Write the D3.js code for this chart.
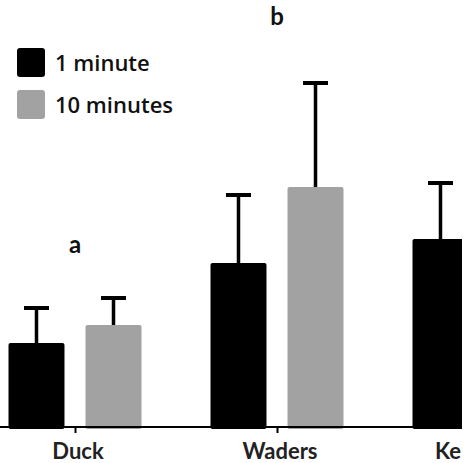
<!DOCTYPE html>
<html>
<head>
<meta charset="utf-8">
<script src="https://cdn.jsdelivr.net/npm/d3@7"></script>
<style>
html,body{margin:0;padding:0;background:#fff;overflow:hidden;}
svg{display:block;}
</style>
</head>
<body>
<svg id="chart" width="465" height="463"></svg>
<script>
const categories = ["Duck", "Waders", "Kelp gulls"];
const series = ["1 minute", "10 minutes"];
const oneMinute = [8.4, 16.4, 18.8];
const tenMinutes = [10.2, 24.0, 22.0];
const oneMinuteErr = [3.5, 6.8, 5.6];
const tenMinutesErr = [2.7, 10.4, 6.0];
const sigLetters = ["a", "b"];
const sigLetterHeight = [17.4, 40.2];
const colors = ["#000000", "#a2a2a2"];

const svg = d3.select("#chart");
const W = 465, H = 463;
const baseY = 427;
const visibleW = 462;

svg.append("defs").append("clipPath").attr("id", "crop")
  .append("rect").attr("x", 0).attr("y", 0).attr("width", visibleW).attr("height", H);
const root = svg.append("g").attr("clip-path", "url(#crop)");

const y = d3.scaleLinear().domain([0, 40]).range([baseY, 27]);
const x0 = d3.scaleBand().domain(categories).range([-26, 580])
  .paddingInner(0.3416).paddingOuter(0.1708);
const x1 = d3.scaleBand().domain(series).range([0, x0.bandwidth()])
  .paddingInner(0.273);

const data = categories.map((c, i) => ({
  cat: c,
  vals: [
    {s: series[0], v: oneMinute[i], e: oneMinuteErr[i]},
    {s: series[1], v: tenMinutes[i], e: tenMinutesErr[i]}
  ]
}));

const g = root.append("g");
const groups = g.selectAll("g.grp").data(data).join("g")
  .attr("transform", d => `translate(${x0(d.cat)},0)`);

groups.selectAll("g.err").data(d => d.vals).join("g").each(function(d) {
  const cx = x1(d.s) + x1.bandwidth() / 2;
  const sel = d3.select(this);
  sel.append("line").attr("x1", cx).attr("x2", cx)
    .attr("y1", y(d.v)).attr("y2", y(d.v + d.e))
    .attr("stroke", "#000").attr("stroke-width", 3.5);
  sel.append("line").attr("x1", cx - 12.5).attr("x2", cx + 12.5)
    .attr("y1", y(d.v + d.e)).attr("y2", y(d.v + d.e))
    .attr("stroke", "#000").attr("stroke-width", 4);
});

groups.selectAll("rect").data(d => d.vals).join("rect")
  .attr("x", d => x1(d.s))
  .attr("y", d => y(d.v))
  .attr("width", x1.bandwidth())
  .attr("height", d => baseY - y(d.v) + 2)
  .attr("rx", 2)
  .attr("fill", (d, i) => colors[i]);

g.selectAll("text.sig").data(sigLetters).join("text")
  .attr("x", (s, i) => x0(categories[i]) + x0.bandwidth() / 2)
  .attr("y", (s, i) => y(sigLetterHeight[i]))
  .attr("text-anchor", "middle")
  .attr("font-family", "Lato, sans-serif")
  .attr("font-weight", "bold")
  .attr("font-size", 24)
  .attr("fill", "#111")
  .text(s => s);

const axis = d3.axisBottom(d3.scalePoint().domain(categories)
  .range([x0(categories[0]) + x0.bandwidth()/2, x0(categories[2]) + x0.bandwidth()/2]))
  .tickSize(6).tickPadding(10);
const ax = root.append("g").attr("transform", `translate(0,${baseY})`).call(axis);
ax.select(".domain").remove();
ax.append("line").attr("x1", 0).attr("x2", W).attr("y1", 0).attr("y2", 0)
  .attr("stroke", "#000").attr("stroke-width", 2);
ax.selectAll(".tick line").attr("stroke", "#000").attr("stroke-width", 2);
ax.selectAll(".tick text")
  .attr("dx", 2.5)
  .attr("font-family", "Lato, sans-serif")
  .attr("font-weight", "bold")
  .attr("font-size", 22)
  .attr("fill", "#222");

const leg = root.append("g").attr("transform", "translate(17,48)");
const li = leg.selectAll("g").data(series).join("g")
  .attr("transform", (d, i) => `translate(0,${i * 42})`);
li.append("rect").attr("width", 28).attr("height", 29).attr("rx", 3)
  .attr("fill", (d, i) => colors[i]);
li.append("text").attr("x", 38).attr("y", 23)
  .attr("font-family", "'Open Sans', sans-serif")
  .attr("font-weight", 600)
  .attr("font-size", 22)
  .attr("fill", "#111")
  .text(d => d);
</script>
</body>
</html>
